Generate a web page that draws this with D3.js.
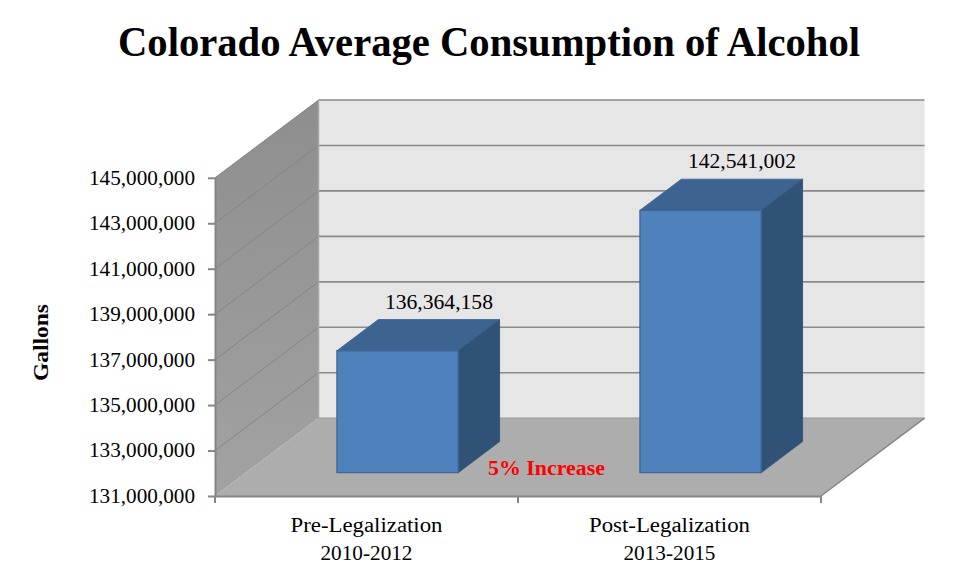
<!DOCTYPE html>
<html><head><meta charset="utf-8">
<script src="https://cdn.jsdelivr.net/npm/d3@7"></script>
<style>html,body{margin:0;padding:0;background:#fff}svg{display:block}text{font-family:"Liberation Serif",serif;fill:#000}</style>
</head><body><svg id="c" width="978" height="583"></svg>
<script>
const categories = ["Pre-Legalization", "Post-Legalization"];
const periods = ["2010-2012", "2013-2015"];
const values = [136364158, 142541002];
const valueLabels = ["136,364,158", "142,541,002"];
const tickValues = [131000000,133000000,135000000,137000000,139000000,141000000,143000000,145000000];
const titleText = "Colorado Average Consumption of Alcohol";
const yTitle = "Gallons";
const noteText = "5% Increase";

const svg = d3.select("#c");
const x = d3.scaleBand().domain(categories).range([215,821]).paddingInner(0.6).paddingOuter(0.3);
const y = d3.scaleLinear().domain([131000000,145000000]).range([496,177.8]);
const DX = 103.5, DY = 77.8;
const px = (fx,z)=>fx+DX*z, py=(fy,z)=>fy-DY*z;
const pt = (fx,v,z)=>[px(fx,z),py(y(v),z)];
const [v0,v1]=y.domain(), [xa,xb]=x.range();
const poly=(pts,fill,stroke,sw)=>svg.append("polygon").attr("points",pts.map(p=>p.join(",")).join(" ")).attr("fill",fill).attr("stroke",stroke||"none").attr("stroke-width",sw||0);

const defs=svg.append("defs");
const g=defs.append("linearGradient").attr("id","wall").attr("x1",0).attr("y1",0).attr("x2",0).attr("y2",1);
g.append("stop").attr("offset",0).attr("stop-color","#8e8e8e");
g.append("stop").attr("offset",1).attr("stop-color","#a2a2a2");

// walls and floor
poly([pt(xa,v0,1),pt(xb,v0,1),pt(xb,v1,1),pt(xa,v1,1)],"#e6e6e6");
poly([pt(xa,v0,0),pt(xa,v0,1),pt(xa,v1,1),pt(xa,v1,0)],"url(#wall)");
poly([pt(xa,v0,0),pt(xb,v0,0),pt(xb,v0,1),pt(xa,v0,1)],"#adadad");

// gridlines
tickValues.forEach((t,i)=>{
  const a=pt(xa,t,0),b=pt(xa,t,1),c=pt(xb,t,1);
  if(i>0) svg.append("line").attr("x1",a[0]).attr("y1",a[1]).attr("x2",b[0]).attr("y2",b[1]).attr("stroke","#858585").attr("stroke-width",1);
  if(i>0) svg.append("line").attr("x1",b[0]).attr("y1",b[1]).attr("x2",c[0]).attr("y2",c[1]).attr("stroke","#8a8a8a").attr("stroke-width",1.6);
});
svg.append("line").attr("x1",px(xa,1)).attr("y1",py(y(v0),1)).attr("x2",px(xa,1)).attr("y2",py(y(v1),1)).attr("stroke","#a6a6a6").attr("stroke-width",1.5);
svg.append("line").attr("x1",px(xa,1)).attr("y1",py(y(v0),1)).attr("x2",px(xb,1)).attr("y2",py(y(v0),1)).attr("stroke","#999").attr("stroke-width",1.2);
svg.append("line").attr("x1",px(xb,0)).attr("y1",py(y(v0),0)).attr("x2",px(xb,1)).attr("y2",py(y(v0),1)).attr("stroke","#868686").attr("stroke-width",1.5);

// bars
const zF=0.3, zB=0.7, edge="#3e6797";
categories.forEach((c,i)=>{
  const l=x(c), r=l+x.bandwidth(), v=values[i];
  poly([pt(l,v,zF),pt(r,v,zF),pt(r,v,zB),pt(l,v,zB)],"#3d6390","#426a9a",1);
  poly([pt(r,v0,zF),pt(r,v,zF),pt(r,v,zB),pt(r,v0,zB)],"#315277","#35587f",1);
  poly([pt(l,v0,zF),pt(r,v0,zF),pt(r,v,zF),pt(l,v,zF)],"#4f81bd",edge,1.3);
  svg.append("text").attr("x",px(l+x.bandwidth()/2,zB)).attr("y",py(y(v),zB)-11)
    .attr("text-anchor","middle").attr("font-size",20).attr("textLength",108).attr("lengthAdjust","spacingAndGlyphs").text(valueLabels[i]);
});

// axes
const yAxis=d3.axisLeft(y).tickValues(tickValues).tickSizeInner(7).tickSizeOuter(0).tickPadding(13).tickFormat(d3.format(","));
const ya=svg.append("g").attr("transform",`translate(${xa},0)`).call(yAxis);
ya.select(".domain").attr("stroke","#868686").attr("stroke-width",2);
ya.selectAll("line").attr("stroke","#868686").attr("stroke-width",2);
ya.selectAll("text").attr("font-size",20).attr("font-family","Liberation Serif").attr("textLength",106).attr("lengthAdjust","spacingAndGlyphs");

const xAxis=d3.axisBottom(x).tickValues([]).tickSizeOuter(0);
const xag=svg.append("g").attr("transform",`translate(0,${y(v0)})`).call(xAxis);
xag.select(".domain").attr("stroke","#868686").attr("stroke-width",2);
[xa,(xa+xb)/2,xb].forEach(t=>xag.append("line").attr("x1",t).attr("x2",t).attr("y1",0).attr("y2",7).attr("stroke","#868686").attr("stroke-width",2));
const catW=[152,161], perW=[92,92];
categories.forEach((c,i)=>{
  const cx=x(c)+x.bandwidth()/2;
  svg.append("text").attr("x",cx).attr("y",532).attr("text-anchor","middle").attr("font-size",20).attr("textLength",catW[i]).attr("lengthAdjust","spacingAndGlyphs").text(c);
  svg.append("text").attr("x",cx).attr("y",560).attr("text-anchor","middle").attr("font-size",20).attr("textLength",perW[i]).attr("lengthAdjust","spacingAndGlyphs").text(periods[i]);
});

// text
svg.append("text").attr("x",489).attr("y",56).attr("text-anchor","middle").attr("font-size",42).attr("font-weight","bold").attr("textLength",742).attr("lengthAdjust","spacingAndGlyphs").text(titleText);
svg.append("text").attr("transform","translate(48,342.5) rotate(-90)").attr("text-anchor","middle").attr("font-size",20).attr("font-weight","bold").attr("textLength",77).attr("lengthAdjust","spacingAndGlyphs").text(yTitle);
svg.append("text").attr("x",546.5).attr("y",475).attr("text-anchor","middle").attr("font-size",20).attr("font-weight","bold").style("fill","#ff0000").attr("textLength",117).attr("lengthAdjust","spacingAndGlyphs").text(noteText);
</script></body></html>
